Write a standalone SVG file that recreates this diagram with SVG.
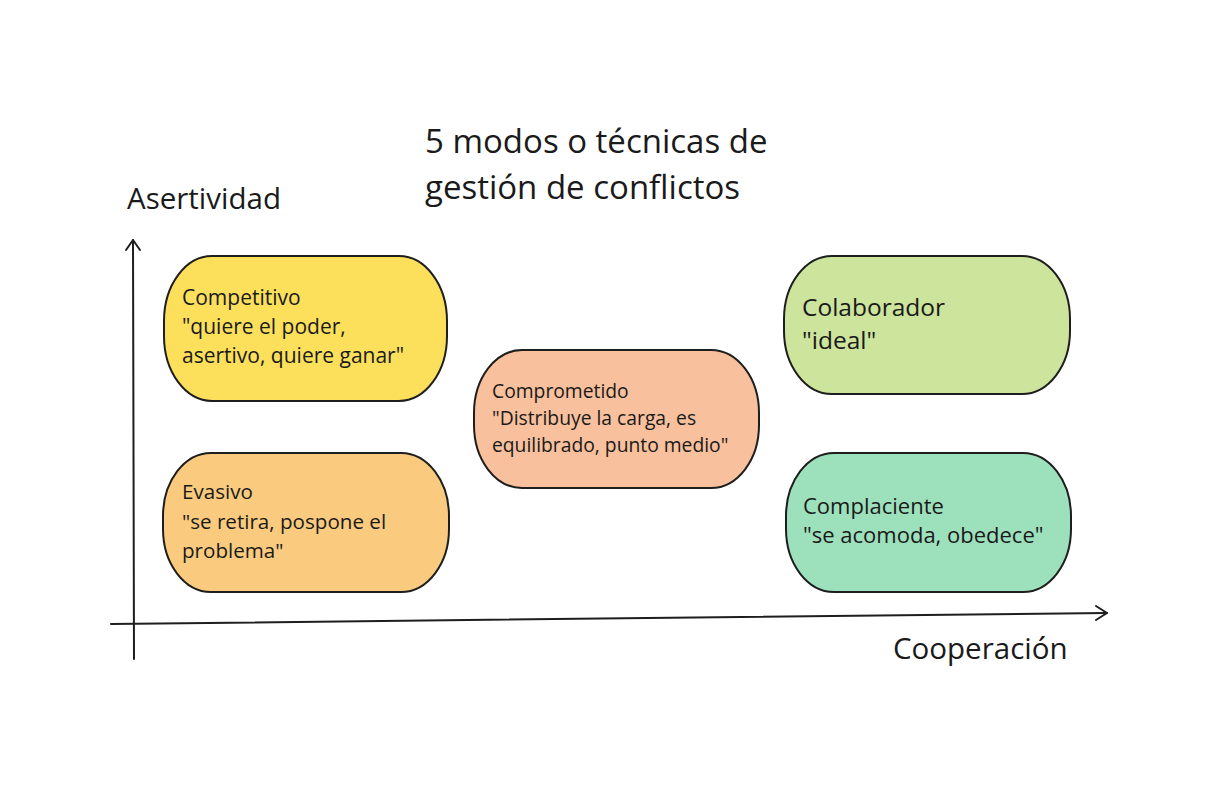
<svg xmlns="http://www.w3.org/2000/svg" width="1219" height="785" viewBox="0 0 1219 785">
<style>
.node{stroke:#1e1e1e;stroke-width:2}
.t{font-family:"Open Sans","Liberation Sans",sans-serif;fill:#1a1a1a}
.ax{stroke:#1e1e1e;stroke-width:2;fill:none;stroke-linecap:round;stroke-linejoin:round}
</style>
<rect width="1219" height="785" fill="#ffffff"/>
<g id="title">
<text class="t" x="425" y="153" font-size="33">5 modos o técnicas de</text>
<text class="t" x="425" y="199" font-size="33">gestión de conflictos</text>
</g>
<g id="axes">
<path class="ax" d="M133 240 L134 659"/>
<path class="ax" d="M126 250 L133 240 L140 250"/>
<path class="ax" d="M111 624 L1107 613"/>
<path class="ax" d="M1096 606 L1107 613 L1096 620"/>
<text class="t" x="127" y="209" font-size="29.5">Asertividad</text>
<text class="t" x="893" y="659" font-size="29.5">Cooperación</text>
</g>
<g id="competitivo">
<rect class="node" x="164" y="256" width="283" height="145" rx="48" ry="65" fill="#fce05c"/>
<text class="t" x="182" y="305" font-size="21">Competitivo</text>
<text class="t" x="182" y="334" font-size="21">"quiere el poder,</text>
<text class="t" x="182" y="363" font-size="21">asertivo, quiere ganar"</text>
</g>
<g id="evasivo">
<rect class="node" x="163" y="453" width="286" height="139" rx="48" ry="63" fill="#facb7e"/>
<text class="t" x="182" y="499" font-size="20.6">Evasivo</text>
<text class="t" x="182" y="529" font-size="20.6">"se retira, pospone el</text>
<text class="t" x="182" y="558" font-size="20.6">problema"</text>
</g>
<g id="comprometido">
<rect class="node" x="474" y="350" width="285" height="138" rx="48" ry="63" fill="#f8c09c"/>
<text class="t" x="492" y="398" font-size="19.3">Comprometido</text>
<text class="t" x="492" y="425" font-size="19.3">"Distribuye la carga, es</text>
<text class="t" x="492" y="452" font-size="19.3">equilibrado, punto medio"</text>
</g>
<g id="colaborador">
<rect class="node" x="784" y="256" width="286" height="138" rx="48" ry="63" fill="#cce49c"/>
<text class="t" x="802" y="316" font-size="24.5">Colaborador</text>
<text class="t" x="802" y="349" font-size="24.5">"ideal"</text>
</g>
<g id="complaciente">
<rect class="node" x="786" y="453" width="285" height="139" rx="48" ry="63" fill="#9de0bc"/>
<text class="t" x="803" y="514" font-size="22">Complaciente</text>
<text class="t" x="803" y="543" font-size="22">"se acomoda, obedece"</text>
</g>
</svg>
